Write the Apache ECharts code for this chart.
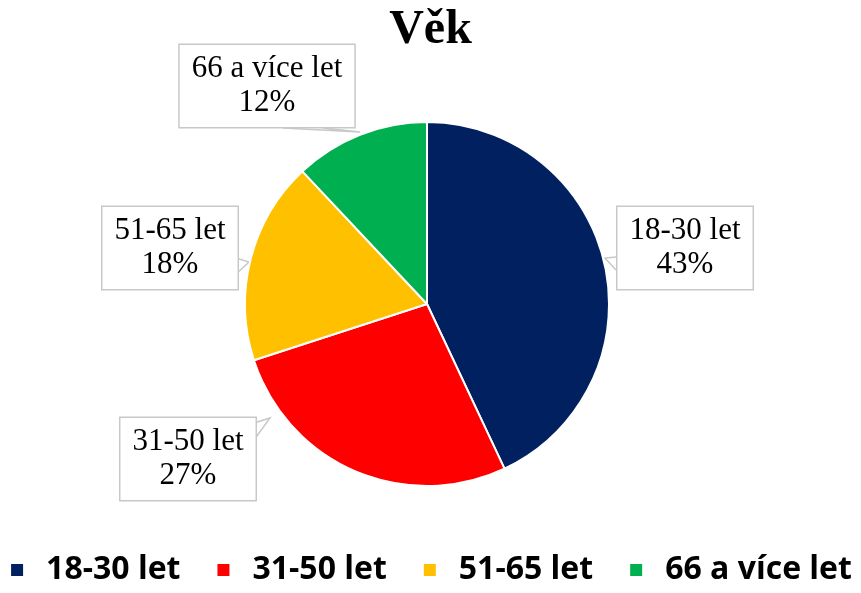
<!DOCTYPE html>
<html>
<head>
<meta charset="utf-8">
<script src="https://cdn.jsdelivr.net/npm/echarts@6/dist/echarts.min.js"></script>
<style>html,body{margin:0;padding:0;background:#fff;}#c{width:861px;height:593px;}</style>
</head>
<body>
<div id="c"></div>
<script>
var categories = ['18-30 let', '31-50 let', '51-65 let', '66 a více let'];
var values = [43, 27, 18, 12];
var colors = ['#002060', '#FF0000', '#FFC000', '#00B050'];
var labelPos = [[685, 248], [188, 459], [170, 248], [267, 86]];
// callout pointer shapes: [edge point A, tip, edge point B]
var pointers = [
  [[616, 257], [605, 258], [616, 270]],
  [[254, 423], [270, 418], [254, 440]],
  [[236, 258], [249, 262], [236, 274]],
  [[283, 128], [360, 132], [323, 128]]
];

var chart = echarts.init(document.getElementById('c'));
chart.setOption({
  animation: false,
  backgroundColor: '#fff',
  title: {
    text: 'Věk', left: 'center', top: 2,
    textStyle: { fontFamily: 'Liberation Serif', fontWeight: 'bold', fontSize: 48, color: '#000' }
  },
  legend: {
    bottom: 2, left: 'center',
    icon: 'rect', itemWidth: 14, itemHeight: 14, itemGap: 35,
    textStyle: { fontFamily: 'Open Sans', fontWeight: 'bold', fontSize: 32, color: '#000', padding: [0, 0, 0, 17] },
    data: categories
  },
  series: [{
    type: 'pie',
    center: [427, 304],
    radius: 182,
    startAngle: 90,
    clockwise: true,
    color: colors,
    itemStyle: { borderColor: '#fff', borderWidth: 2 },
    data: categories.map(function (c, i) { return { name: c, value: values[i] }; }),
    label: {
      show: true,
      formatter: function (p) { return p.name + '\n' + p.value + '%'; },
      fontFamily: 'Liberation Serif', fontSize: 31, lineHeight: 34, color: '#000',
      backgroundColor: '#fff', borderColor: '#C8C8C8', borderWidth: 1.5,
      padding: [7, 12], align: 'center'
    },
    labelLine: { show: true, length: 10, length2: 10, lineStyle: { color: '#C8C8C8', width: 1.5 } },
    labelLayout: function (p) {
      var pos = labelPos[p.dataIndex];
      return { x: pos[0], y: pos[1], align: 'center', verticalAlign: 'middle', labelLinePoints: pointers[p.dataIndex] };
    }
  }]
});
</script>
</body>
</html>
